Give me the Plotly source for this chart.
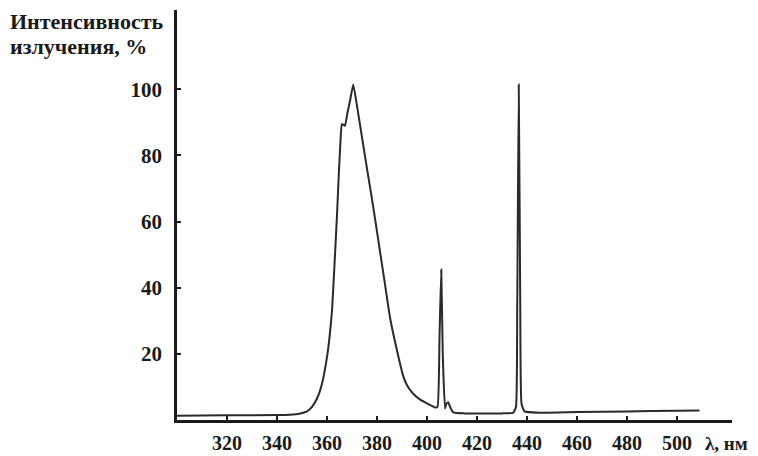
import plotly.graph_objects as go

wavelength_nm = [300, 320, 340, 345, 349, 352, 354, 356, 358, 360, 361, 362, 363, 364, 364.7,
                 365.3, 365.9, 366.4, 367.2, 368.2, 369.2, 370.5, 372, 374, 376, 377.2, 379.2,
                 381.2, 383.2, 385.2, 388, 390.4, 392, 394.4, 397, 400, 403.2, 404.2, 405, 405.7, 406.3,
                 407.2, 407.8, 408.5, 409.2, 410.5, 415, 420, 430, 434.5, 435.6, 436.1, 436.7, 437.3,
                 437.8, 439, 445, 460, 480, 500, 509]
intensity_pct = [1.3, 1.4, 1.5, 1.6, 1.9, 2.6, 4, 6.5, 11, 19, 25, 33, 47, 62, 74,
                 83, 89.5, 89.3, 89, 93, 96.5, 101.5, 95, 85.5, 76, 70.5, 61,
                 51, 41, 31, 21, 13.5, 10.5, 8, 6.3, 5, 3.8, 4, 25, 45.5, 20,
                 3.5, 5, 5.4, 4, 2.3, 2, 2, 2, 2.2, 4, 35, 101.5, 35,
                 5, 2.6, 2.2, 2.4, 2.6, 2.8, 2.9]

x_ticks = [320, 340, 360, 380, 400, 420, 440, 460, 480, 500]
y_ticks = [20, 40, 60, 80, 100]

y_title_lines = ["Интенсивность", "излучения, %"]
x_title = "λ, нм"

FONT = "Liberation Serif"
INK = "#1a1a1a"

fig = go.Figure()
fig.add_trace(go.Scatter(
    x=wavelength_nm, y=intensity_pct, mode="lines",
    line=dict(color="#2a2a2a", width=2, shape="spline", smoothing=0.4),
    hoverinfo="skip", showlegend=False,
))

# page has an 8px body margin: figure occupies page pixels 8..758 x 8..456
OFF = 8
W, H = 758 - OFF, 456 - OFF
L, R, T, B = 177 - OFF, 26, 10 - OFF, 36
pw, ph = W - L - R, H - T - B

def px_to_paper(px, py):
    # px, py in page pixels
    fx, fy = px - OFF, py - OFF
    return (fx - L) / pw, (H - B - fy) / ph

fig.update_layout(
    width=W, height=H,
    margin=dict(l=L, r=R, t=T, b=B, autoexpand=False),
    paper_bgcolor="white", plot_bgcolor="white",
    showlegend=False,
    xaxis=dict(
        range=[300, 522], tickvals=x_ticks, ticktext=[str(v) for v in x_ticks],
        showgrid=False, zeroline=False, showline=True, linecolor=INK, linewidth=2.5,
        ticks="inside", ticklen=4, tickwidth=1.5, tickcolor=INK,
        tickfont=dict(family=FONT, size=20, color=INK, weight="bold"),
        ticklabelstandoff=3, automargin=False,
    ),
    yaxis=dict(
        range=[0, 124], tickvals=y_ticks, ticktext=[str(v) for v in y_ticks],
        showgrid=False, zeroline=False, showline=True, linecolor=INK, linewidth=2.5,
        ticks="inside", ticklen=4, tickwidth=1.5, tickcolor=INK,
        tickfont=dict(family=FONT, size=21, color=INK, weight="bold"),
        ticklabelstandoff=8, automargin=False,
    ),
)

ann = []
x0, y0 = px_to_paper(8, 21)
ann.append(dict(text=y_title_lines[0], xref="paper", yref="paper", x=x0, y=y0,
                xanchor="left", yanchor="middle", showarrow=False,
                font=dict(family=FONT, size=22, color=INK, weight="bold")))
x1, y1 = px_to_paper(8, 47)
ann.append(dict(text=y_title_lines[1], xref="paper", yref="paper", x=x1, y=y1,
                xanchor="left", yanchor="middle", showarrow=False,
                font=dict(family=FONT, size=22, color=INK, weight="bold")))
x2, y2 = px_to_paper(703, 443)
ann.append(dict(text=x_title, xref="paper", yref="paper", x=x2, y=y2,
                xanchor="left", yanchor="middle", showarrow=False,
                font=dict(family=FONT, size=19, color=INK, weight="bold")))
fig.update_layout(annotations=ann)

fig.write_html("out.html")
